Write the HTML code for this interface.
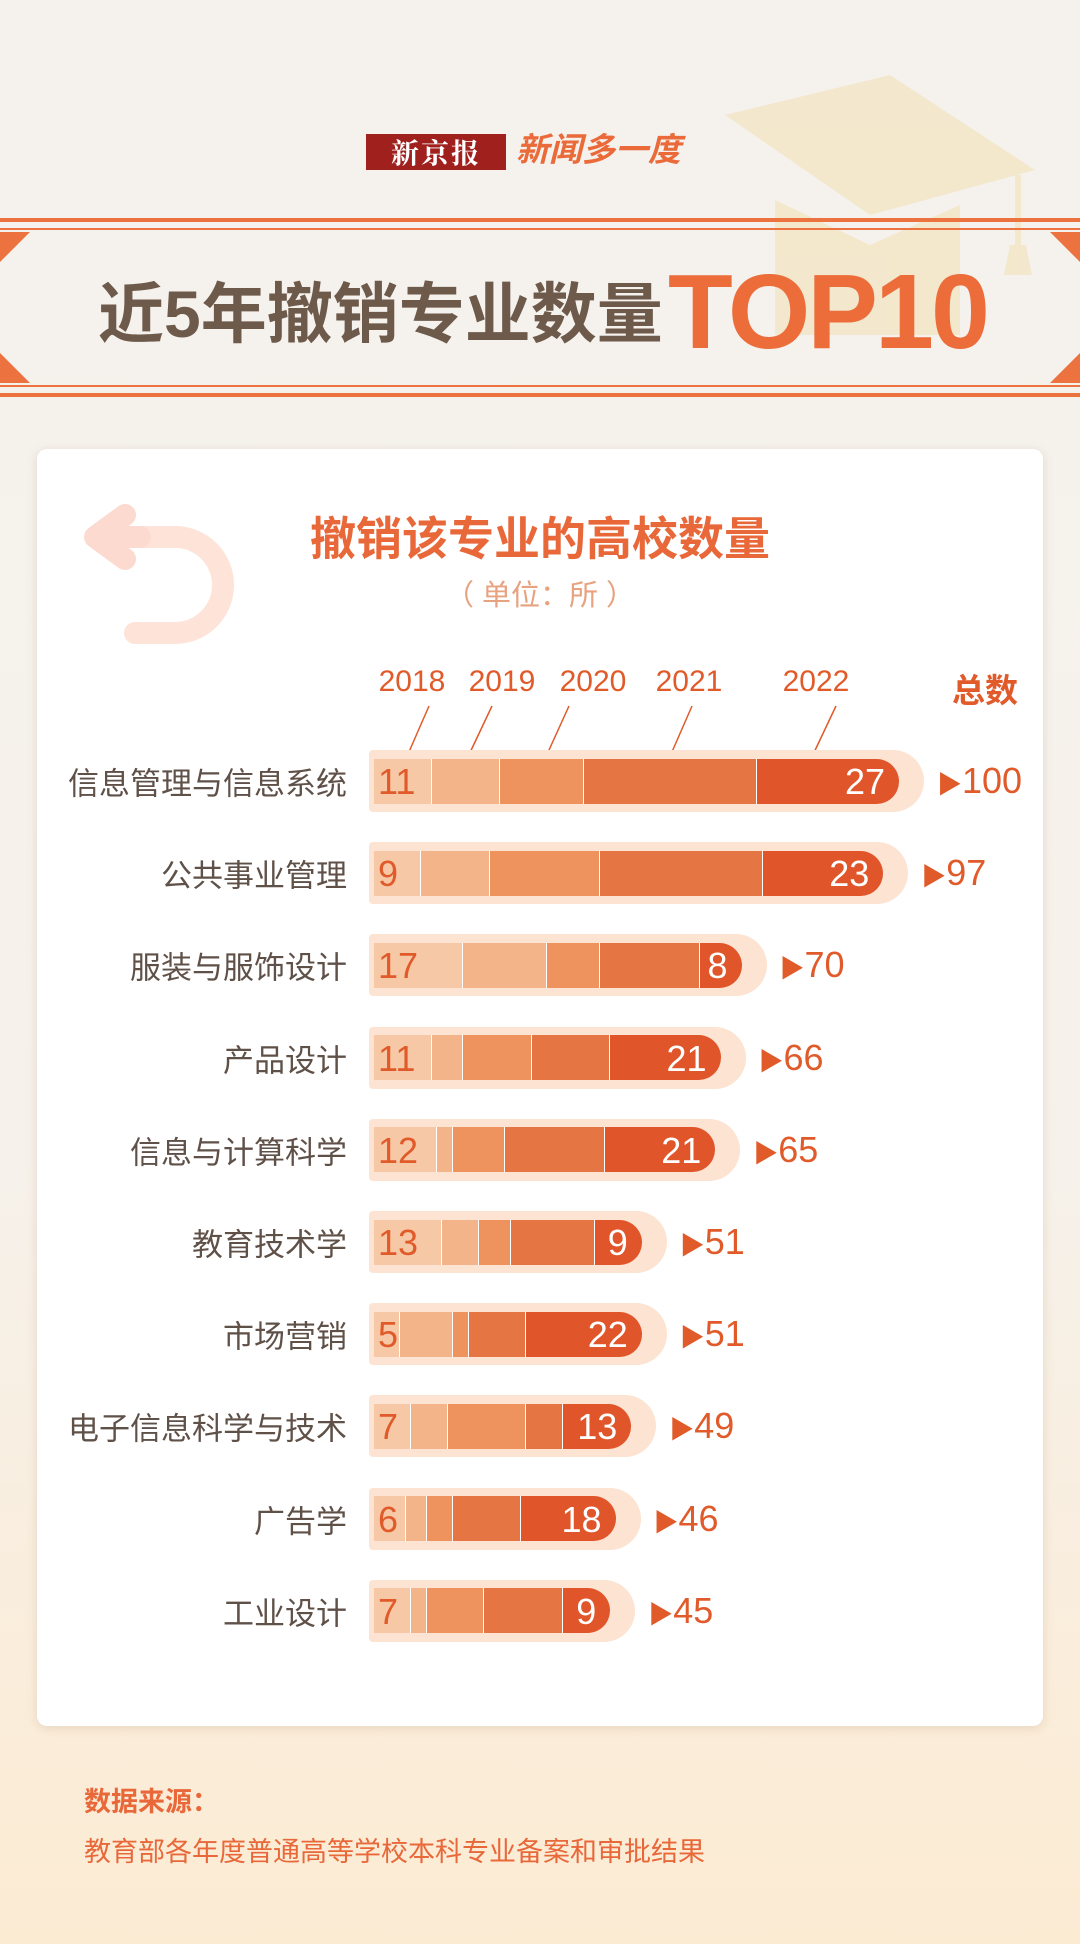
<!DOCTYPE html>
<html><head><meta charset="utf-8">
<style>
*{margin:0;padding:0;box-sizing:border-box}
body{width:1080px;height:1944px;overflow:hidden;font-family:"Liberation Sans","Noto Sans CJK SC",sans-serif;background:linear-gradient(#f5f2ee 0%,#f6f1ea 60%,#fcebd3 100%);position:relative}
.abs{position:absolute}
.card{left:37px;top:449px;width:1006px;height:1277px;background:#fff;border-radius:10px;box-shadow:0 2px 10px rgba(180,140,110,.25)}
.lbl{position:absolute;right:733px;font-size:31px;color:#5f5048;white-space:nowrap;transform:translateY(-50%)}
.outer{position:absolute;left:369px;height:62px;background:#fce3d2;border-radius:4px 31px 31px 4px}
.bar{position:absolute;left:374px;height:45px;border-radius:0 23px 23px 0;overflow:hidden;display:flex}
.bar div{height:100%;border-right:1.5px solid #fff}
.bar div:last-child{border-right:none}
.v1{position:absolute;font-size:36px;color:#e05a2a;transform:translateY(-50%)}
.v5{position:absolute;font-size:36px;color:#fff;transform:translateY(-50%)}
.tot{position:absolute;font-size:36px;color:#e05a2a;transform:translateY(-50%);white-space:nowrap}
.yr{position:absolute;top:665px;font-size:30px;color:#e05a2a;transform:translateX(-50%)}
</style></head><body>
<svg class="abs" style="left:0;top:0" width="1080" height="420">
<g fill="#f3e6c9" opacity="0.9">
<polygon points="725,115 890,75 1035,170 870,215"/>
<polygon points="775,200 870,245 960,205 960,335 775,335"/>
<rect x="1015" y="175" width="6" height="75"/>
<polygon points="1010,245 1026,245 1032,275 1004,275"/>
</g>
<rect x="0" y="218" width="1080" height="4" fill="#ec7240"/>
<rect x="0" y="228" width="1080" height="2" fill="#ec7240"/>
<rect x="0" y="385" width="1080" height="2" fill="#ec7240"/>
<rect x="0" y="393" width="1080" height="4" fill="#ec7240"/>
<polygon points="0,232 30,232 0,262" fill="#ec7240"/>
<polygon points="0,383 30,383 0,353" fill="#ec7240"/>
<polygon points="1080,232 1050,232 1080,262" fill="#ec7240"/>
<polygon points="1080,383 1050,383 1080,353" fill="#ec7240"/>
</svg>
<div class="abs" style="left:366px;top:134px;width:140px;height:36px;background:#a0201e;color:#fff;font-family:'Noto Serif CJK SC',serif;font-weight:bold;font-size:28px;line-height:36px;text-align:center;letter-spacing:2px">新京报</div>
<div class="abs" style="left:516px;top:130px;color:#ea6a3a;font-size:33px;font-weight:bold;font-style:italic;line-height:40px">新闻多一度</div>
<div class="abs" style="left:98px;top:272px;font-size:66px;font-weight:bold;color:#6e5a4b;line-height:84px;white-space:nowrap">近5年撤销专业数量</div>
<div class="abs" style="left:668px;top:252px;font-size:106px;font-weight:bold;color:#ec6c3a;line-height:120px;letter-spacing:-3px">TOP10</div>
<div class="abs card"></div>
<svg class="abs" style="left:70px;top:485px" width="190" height="160">
<path d="M70,52 H105 A48,48 0 0 1 105,148 H65" fill="none" stroke="#fde3d8" stroke-width="22" stroke-linecap="round"/>
<path d="M70,52 L40,52 M55,30 L25,52 L55,74" fill="none" stroke="#fcdad0" stroke-width="22" stroke-linecap="round" stroke-linejoin="round"/>
</svg>
<div class="abs" style="left:0;width:1080px;top:503px;text-align:center;font-size:46px;font-weight:bold;color:#e8683a">撤销该专业的高校数量</div>
<div class="abs" style="left:0;width:1080px;top:572px;text-align:center;font-size:29px;color:#e7a27f">（ 单位：所 ）</div>
<div class="yr" style="left:412px">2018</div><div class="yr" style="left:502px">2019</div><div class="yr" style="left:593px">2020</div><div class="yr" style="left:689px">2021</div><div class="yr" style="left:816px">2022</div>
<div class="abs" style="left:952px;top:664px;font-size:33px;font-weight:bold;color:#e05a2a">总数</div>
<svg class="abs" style="left:0;top:0" width="1080" height="800">
<g stroke="#e05a2a" stroke-width="1.5">
<line x1="429" y1="706" x2="405" y2="761"/><line x1="492" y1="706" x2="466" y2="761"/><line x1="569" y1="706" x2="544" y2="761"/><line x1="692" y1="706" x2="668" y2="761"/><line x1="836" y1="706" x2="810" y2="761"/>
</g></svg>
<div id="rows"></div>
<div class="abs" style="left:84px;top:1780px;font-size:27px;font-weight:bold;color:#e8683a">数据来源：</div>
<div class="abs" style="left:84px;top:1830px;font-size:27px;color:#e8683a">教育部各年度普通高等学校本科专业备案和审批结果</div>
<script>
var data=[["信息管理与信息系统",[11,13,16,33,27],100],["公共事业管理",[9,13,21,31,23],97],["服装与服饰设计",[17,16,10,19,8],70],["产品设计",[11,6,13,15,21],66],["信息与计算科学",[12,3,10,19,21],65],["教育技术学",[13,7,6,16,9],51],["市场营销",[5,10,3,11,22],51],["电子信息科学与技术",[7,7,15,7,13],49],["广告学",[6,4,5,13,18],46],["工业设计",[7,3,11,15,9],45]];
var cols=["#f7c8a6","#f4b48a","#ef935e","#e57643","#e0552a"];
var u=5.25,h="";
data.forEach(function(d,i){
 var c=781+i*92.2,w=d[2]*u;
 h+='<div class="lbl" style="top:'+c+'px">'+d[0]+'</div>';
 h+='<div class="outer" style="top:'+(c-31)+'px;width:'+(w+30)+'px"></div>';
 h+='<div class="bar" style="top:'+(c-22.5)+'px;width:'+w+'px">';
 d[1].forEach(function(v,j){h+='<div style="width:'+(v*u)+'px;background:'+cols[j]+'"></div>';});
 h+='</div>';
 h+='<div class="v1" style="left:378px;top:'+(c+1)+'px">'+d[1][0]+'</div>';
 h+='<div class="v5" style="right:'+(1080-(374+w-14))+'px;top:'+(c+1)+'px">'+d[1][4]+'</div>';
 h+='<div class="tot" style="left:'+(374+w+38)+'px;top:'+c+'px"><span style="font-size:25px">▶</span>'+d[2]+'</div>';
});
document.getElementById("rows").innerHTML=h;
</script>
</body></html>
